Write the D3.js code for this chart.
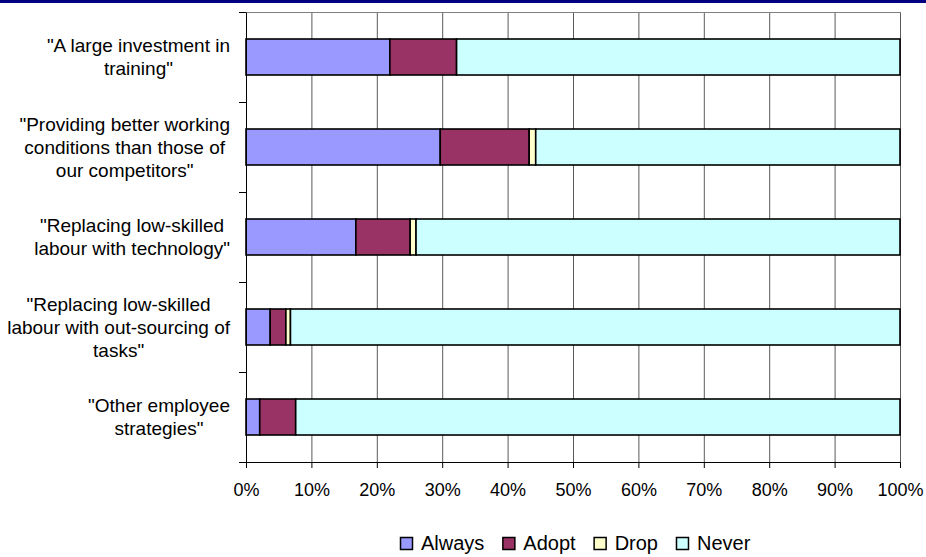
<!DOCTYPE html>
<html>
<head>
<meta charset="utf-8">
<script src="https://cdn.jsdelivr.net/npm/d3@7"></script>
<style>
  html, body { margin: 0; padding: 0; background: #fff; }
  svg { display: block; font-family: Arial, "Liberation Sans", sans-serif; }
</style>
</head>
<body>
<svg id="chart" width="926" height="557"></svg>
<script>
// ---- Data ----
const categories = [
  "\"A large investment in training\"",
  "\"Providing better working conditions than those of our competitors\"",
  "\"Replacing low-skilled labour with technology\"",
  "\"Replacing low-skilled labour with out-sourcing of tasks\"",
  "\"Other employee strategies\""
];
const categoryLines = [
  ["\"A large investment in", "training\""],
  ["\"Providing better working", "conditions than those of", "our competitors\""],
  ["\"Replacing low-skilled", "labour with technology\""],
  ["\"Replacing low-skilled", "labour with out-sourcing of", "tasks\""],
  ["\"Other employee", "strategies\""]
];
const seriesNames = ["Always", "Adopt", "Drop", "Never"];
const always = [22.0, 29.7, 16.8, 3.7, 2.1];
const adopt  = [10.2, 13.6, 8.3, 2.4, 5.5];
const drop   = [0.0, 1.0, 0.9, 0.7, 0.0];
const never  = [67.8, 55.7, 74.0, 93.2, 92.4];
const seriesColors = ["#9999FF", "#993366", "#FFFFCC", "#CCFFFF"];
const xTicks = [0, 10, 20, 30, 40, 50, 60, 70, 80, 90, 100];

// ---- Layout ----
const svg = d3.select("#chart");
const W = 926, H = 557;
const mLeft = 246, mRight = 900, mTop = 12, mBottom = 462;

// navy band at top
svg.append("rect").attr("x", 0).attr("y", 0).attr("width", W).attr("height", 3).attr("fill", "#000080");

const x = d3.scaleLinear().domain([0, 100]).range([mLeft, mRight]);
const y = d3.scaleBand().domain(categories).range([mTop, mBottom]).paddingInner(0.6).paddingOuter(0.3);
const yEdges = d3.scaleLinear().domain([0, categories.length]).range([mTop, mBottom]);

// gridlines
svg.append("g").selectAll("line").data(xTicks.slice(1)).join("line")
  .attr("x1", d => x(d) + 0.5).attr("x2", d => x(d) + 0.5)
  .attr("y1", mTop).attr("y2", mBottom)
  .attr("stroke", "#5a5a5a").attr("stroke-width", 1);

// plot top border
svg.append("line").attr("x1", mLeft).attr("x2", mRight + 1).attr("y1", mTop + 0.5).attr("y2", mTop + 0.5)
  .attr("stroke", "#808080").attr("stroke-width", 1);

// stacked data
const rows = categories.map((c, i) => ({ cat: c, Always: always[i], Adopt: adopt[i], Drop: drop[i], Never: never[i] }));
const stacked = d3.stack().keys(seriesNames)(rows);

const gBars = svg.append("g");
stacked.forEach((layer, si) => {
  gBars.append("g").selectAll("rect").data(layer.filter(d => d[1] - d[0] > 0)).join("rect")
    .attr("x", d => x(d[0]))
    .attr("width", d => x(d[1]) - x(d[0]))
    .attr("y", d => y(d.data.cat))
    .attr("height", y.bandwidth())
    .attr("fill", seriesColors[si])
    .attr("stroke", "#000")
    .attr("stroke-width", 1.6);
});

// x axis
const xAxis = svg.append("g").attr("transform", `translate(0,${mBottom})`)
  .call(d3.axisBottom(x).tickValues(xTicks).tickFormat(d => d + "%").tickSize(6).tickSizeOuter(0));
xAxis.select(".domain").attr("stroke", "#000");
xAxis.selectAll(".tick line").attr("stroke", "#000");
xAxis.selectAll(".tick text").attr("font-size", 18).attr("font-family", "Arial, 'Liberation Sans', sans-serif")
  .attr("fill", "#000").attr("dy", "0").attr("y", 34);

// y axis (ticks at category boundaries)
const yAxis = svg.append("g").attr("transform", `translate(${mLeft},0)`)
  .call(d3.axisLeft(yEdges).ticks(categories.length).tickFormat("").tickSize(7).tickSizeOuter(0));
yAxis.select(".domain").attr("stroke", "#000");
yAxis.selectAll(".tick line").attr("stroke", "#000");

// category labels (centred blocks, right edge at ~230)
const labelRight = 230, lineH = 23, labelFont = 19;
const gLabels = svg.append("g");
categories.forEach((c, i) => {
  const lines = categoryLines[i];
  const cy = y(c) + y.bandwidth() / 2;
  const t = gLabels.append("text")
    .attr("font-size", labelFont).attr("fill", "#000")
    .attr("text-anchor", "middle");
  const spans = lines.map((ln, j) => t.append("tspan").text(ln)
    .attr("y", cy + (j - (lines.length - 1) / 2) * lineH).attr("dy", "0.35em"));
  const maxW = d3.max(spans, s => s.node().getComputedTextLength());
  spans.forEach(s => s.attr("x", labelRight - maxW / 2));
});

// legend
const legendY = 543;
const gLeg = svg.append("g");
let lx = 400;
seriesNames.forEach((name, i) => {
  gLeg.append("rect").attr("x", lx + 0.5).attr("y", legendY - 5.5).attr("width", 12).attr("height", 12)
    .attr("fill", seriesColors[i]).attr("stroke", "#000").attr("stroke-width", 1.5);
  const t = gLeg.append("text").attr("x", lx + 21).attr("y", legendY).attr("dy", "0.36em")
    .attr("font-size", 20).attr("fill", "#000").text(name);
  lx += 21 + t.node().getComputedTextLength() + 18;
});
</script>
</body>
</html>
